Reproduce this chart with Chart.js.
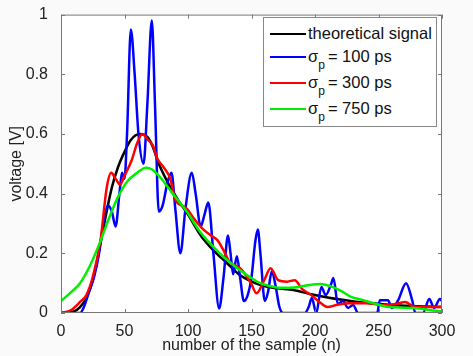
<!DOCTYPE html>
<html><head><meta charset="utf-8">
<script src="https://cdn.jsdelivr.net/npm/chart.js@4/dist/chart.umd.min.js"></script>
<style>
html,body{margin:0;padding:0;background:#fafafa;}
#wrap{position:relative;width:473px;height:356px;}
#legend{position:absolute;left:263px;top:17px;width:174px;height:110px;background:#fff;border:1px solid #888;box-sizing:border-box;font-family:"Liberation Sans",Arial,sans-serif;font-size:16.5px;color:#111;}
.row{position:absolute;left:6px;height:20px;white-space:nowrap;line-height:20px;}
.sw{display:inline-block;width:36px;height:0;border-top:2.5px solid;margin-right:2px;vertical-align:middle;position:relative;top:-1px;}
.row sub{font-size:12px;vertical-align:-7px;line-height:0;margin-right:3px;}
</style></head>
<body>
<div id="wrap">
<canvas id="c" width="473" height="356"></canvas>
<div id="legend">
 <div class="row" style="top:5px"><span class="sw" style="border-color:#000"></span><span>theoretical signal</span></div>
 <div class="row" style="top:28px"><span class="sw" style="border-color:#0000ff"></span><span>σ<sub>p</sub>= 100 ps</span></div>
 <div class="row" style="top:54px"><span class="sw" style="border-color:#ff0000"></span><span>σ<sub>p</sub>= 300 ps</span></div>
 <div class="row" style="top:80px"><span class="sw" style="border-color:#00ee00"></span><span>σ<sub>p</sub>= 750 ps</span></div>
</div>
</div>
<script>
const xTicks = [0, 50, 100, 150, 200, 250, 300];
const yTicks = [0, 0.2, 0.4, 0.6, 0.8, 1];

const theoN = [0,10,15,20,25,30,35,40,45,50,55,62,68,72,77,85,92,100,110,120,130,140,150,160,170,183,198,210,220,240,260,280,300];
const theoV = [0,0.005,0.02,0.05,0.11,0.21,0.32,0.42,0.49,0.54,0.58,0.6,0.59,0.56,0.5,0.43,0.38,0.33,0.26,0.21,0.17,0.13,0.105,0.09,0.083,0.077,0.062,0.052,0.045,0.034,0.027,0.023,0.02];

const blueN = [0,15,18,22,26,30,34,37,40,43,46,48,50,52,55,58,61,65,68,71.5,74,77,80,84,87,90,94,98,103,106,110,113,116,120,124.5,128,131.5,133.5,135.5,138.5,141,144,147,150,153,155,157,160.5,163,166,169,172,175,192,195,197.5,201,205,208.5,212.5,214.5,218,222,226,230,234,249,251,257.5,260.5,265.5,271.7,276.5,279,285,290,293.7,298.4,300];
const blueV = [0,0,0.02,0.07,0.12,0.2,0.32,0.36,0.34,0.29,0.4,0.47,0.45,0.6,0.95,0.8,0.6,0.5,0.7,0.98,0.7,0.34,0.36,0.44,0.47,0.35,0.2,0.35,0.47,0.4,0.29,0.33,0.37,0.2,0.015,0.12,0.26,0.2,0.13,0.19,0.12,0.04,0.06,0.12,0.24,0.28,0.2,0.04,0.07,0.14,0.09,0.02,0,0,0.02,0.05,0,0.087,0.06,0.095,0.117,0.03,0.04,0.017,0.027,0,0,0.043,0.043,0.017,0.043,0.1,0.043,0,0,0.047,0.017,0.047,0.04];

const redN = [0,8,15,20,25,31,36,39.5,43,46.5,50,55.5,60,64,68.5,72.5,75.5,80.5,86,90,95,99,104,112,118,123,128,133,141,149,154,160,165,171,178,184,190,197,204,210,217,227,241,253,264,271,277,288,300];
const redV = [0,0.01,0.037,0.06,0.12,0.24,0.42,0.47,0.45,0.43,0.46,0.51,0.57,0.6,0.58,0.56,0.52,0.49,0.45,0.38,0.36,0.35,0.32,0.28,0.26,0.245,0.21,0.17,0.15,0.105,0.066,0.11,0.15,0.11,0.105,0.11,0.08,0.06,0.035,0.02,0.027,0.033,0.033,0.027,0.03,0.037,0.023,0.02,0.02];

const greenN = [0,8,15,23,31,38,45,52,60,67,72,78,88,99,109,117,125,133,141,149,157,165,172,180,188,196,204,212,220,228,238,248,258,270,280,290,300];
const greenV = [0.04,0.07,0.1,0.16,0.24,0.32,0.39,0.44,0.47,0.487,0.48,0.455,0.4,0.34,0.275,0.235,0.2,0.17,0.143,0.12,0.1,0.09,0.085,0.085,0.088,0.094,0.097,0.09,0.075,0.055,0.043,0.03,0.02,0.018,0.016,0.01,0.005];

const pts = (n, v) => n.map((x, i) => ({x: x, y: v[i]}));
const FONT = '"Liberation Sans", Arial, sans-serif';

const frame = {
  id: 'frame',
  beforeDraw(chart) {
    const {ctx, chartArea: a} = chart;
    ctx.save(); ctx.fillStyle = '#fff';
    ctx.fillRect(a.left, a.top, a.right - a.left, a.bottom - a.top);
    ctx.restore();
  },
  afterDraw(chart) {
    const {ctx, chartArea: a, scales} = chart;
    ctx.save();
    ctx.strokeStyle = '#777'; ctx.lineWidth = 1;
    ctx.strokeRect(a.left + 0.5, a.top + 0.5, a.right - a.left - 1, a.bottom - a.top - 1);
    const L = 4;
    ctx.beginPath();
    xTicks.forEach(t => {
      const px = Math.round(scales.x.getPixelForValue(t)) + 0.5;
      ctx.moveTo(px, a.bottom); ctx.lineTo(px, a.bottom - L);
      ctx.moveTo(px, a.top); ctx.lineTo(px, a.top + L);
    });
    yTicks.forEach(t => {
      const py = Math.round(scales.y.getPixelForValue(t)) + 0.5;
      ctx.moveTo(a.left, py); ctx.lineTo(a.left + L, py);
      ctx.moveTo(a.right, py); ctx.lineTo(a.right - L, py);
    });
    ctx.stroke();
    ctx.restore();
  }
};

const mk = (label, data, color, order) => ({
  label, data, borderColor: color, backgroundColor: color, borderWidth: 2.5,
  pointRadius: 0, cubicInterpolationMode: 'monotone', fill: false, order
});

new Chart(document.getElementById('c'), {
  type: 'line',
  data: {
    datasets: [
      mk('theoretical signal', pts(theoN, theoV), '#000000', 3),
      mk('σp = 100 ps', pts(blueN, blueV), '#0000ff', 2),
      mk('σp = 300 ps', pts(redN, redV), '#ff0000', 1),
      mk('σp = 750 ps', pts(greenN, greenV), '#00ee00', 0)
    ]
  },
  options: {
    responsive: false, animation: false,
    layout: {padding: {left: 0, right: 31, top: 13, bottom: 0}},
    plugins: {legend: {display: false}, tooltip: {enabled: false}},
    scales: {
      x: {
        type: 'linear', min: 0, max: 300,
        afterBuildTicks: s => { s.ticks = xTicks.map(v => ({value: v})); },
        afterFit: s => { s.height = 43; },
        grid: {display: false}, border: {display: false},
        ticks: {color: '#222', font: {family: FONT, size: 16}, padding: 1, maxRotation: 0,
                callback: v => String(v)},
        title: {display: true, text: 'number of the sample (n)', color: '#222', font: {family: FONT, size: 16}, padding: {top: 0, bottom: 1}}
      },
      y: {
        type: 'linear', min: 0, max: 1,
        afterBuildTicks: s => { s.ticks = yTicks.map(v => ({value: v})); },
        afterFit: s => { s.width = 61; },
        grid: {display: false}, border: {display: false},
        ticks: {color: '#222', font: {family: FONT, size: 16}, padding: 5,
                callback: v => String(+Number(v).toFixed(1))},
        title: {display: true, text: 'voltage [V]', color: '#222', font: {family: FONT, size: 16}, padding: {top: 7, bottom: 0}}
      }
    }
  },
  plugins: [frame]
});
</script>
</body></html>
